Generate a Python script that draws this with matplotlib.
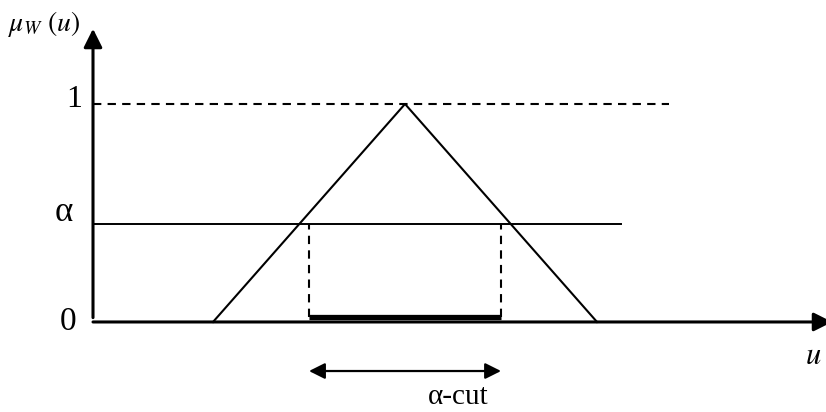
import numpy as np
import matplotlib.pyplot as plt

plt.rcParams['font.family'] = ['Liberation Serif', 'DejaVu Serif']
plt.rcParams['mathtext.fontset'] = 'stix'

# triangular membership function W on the u axis
tri_u = [5, 13, 21]
tri_mu = [0, 1, 0]
alpha = 0.45
cut_u = [9, 17]          # ends of the alpha-cut interval
alpha_line_end = 22
one_line_end = 24
u_axis_end = 30.8
mu_axis_end = 1.345

fig = plt.figure(figsize=(8.26, 4.12), dpi=100)
ax = fig.add_axes([0, 0, 1, 1])
ax.set_xlim(-3.875, 30.54)
ax.set_ylim(-0.413, 1.477)
ax.axis('off')

# axes with arrow heads
ax.annotate('', xy=(0, mu_axis_end), xytext=(0, 0.02),
            arrowprops=dict(arrowstyle='-|>', lw=2.2, color='k', mutation_scale=28,
                            shrinkA=0, shrinkB=0))
ax.annotate('', xy=(u_axis_end, 0), xytext=(0, 0), annotation_clip=False,
            arrowprops=dict(arrowstyle='-|>', lw=2.2, color='k', mutation_scale=28,
                            shrinkA=0, shrinkB=0))

# membership triangle
ax.plot(tri_u, tri_mu, color='k', lw=1.5)

# level lines
ax.plot([0, one_line_end], [1, 1], color='k', lw=1.5, dashes=(4, 3))
ax.plot([0, alpha_line_end], [alpha, alpha], color='k', lw=1.4)

# projection of the cut onto the u axis
for u in cut_u:
    ax.plot([u, u], [0.025, alpha], color='k', lw=1.5, dashes=(4, 3))
ax.plot(cut_u, [0.025, 0.025], color='k', lw=3.8, solid_capstyle='butt')

# double arrow marking the alpha-cut
ax.annotate('', xy=(cut_u[1], -0.225), xytext=(cut_u[0], -0.225),
            arrowprops=dict(arrowstyle='<|-|>', lw=1.6, color='k', mutation_scale=24,
                            shrinkA=0, shrinkB=0))
ax.text(15.2, -0.345, 'α-cut', fontsize=21, ha='center', va='center')

# tick labels and axis names
ax.text(-0.45, 1.02, '1', fontsize=23, ha='right', va='center')
ax.text(-0.85, 0.5, 'α', fontsize=25, ha='right', va='center')
ax.text(-0.7, 0.0, '0', fontsize=24, ha='right', va='center')
ax.text(-3.55, 1.365, r'$\mu_W\ (u)$', fontsize=20, ha='left', va='center')
ax.text(30.0, -0.16, r'$u$', fontsize=22, ha='center', va='center')

fig.savefig('out.png', dpi=100)
